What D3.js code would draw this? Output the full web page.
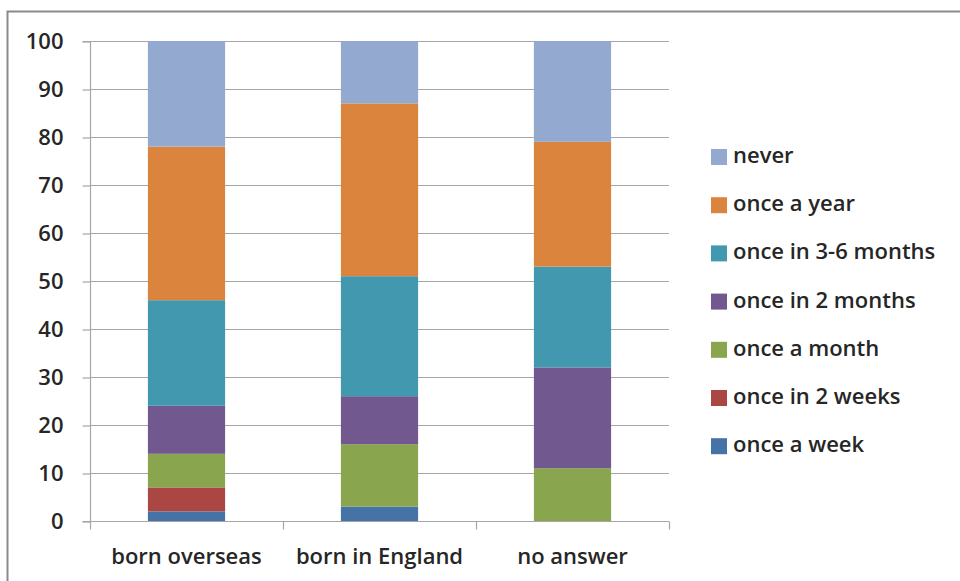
<!DOCTYPE html>
<html><head><meta charset="utf-8">
<script src="https://cdn.jsdelivr.net/npm/d3@7"></script>
<style>body{margin:0;background:#fff;} svg{display:block;font-family:"Open Sans", Lato, sans-serif;}</style>
</head><body>
<svg id="c" width="960" height="581"></svg>
<script>
const categories = ["born overseas", "born in England", "no answer"];
const seriesNames = ["once a week", "once in 2 weeks", "once a month", "once in 2 months", "once in 3-6 months", "once a year", "never"];
const onceAWeek = [2, 3, 0];
const onceIn2Weeks = [5, 0, 0];
const onceAMonth = [7, 13, 11];
const onceIn2Months = [10, 10, 21];
const onceIn3to6Months = [22, 25, 21];
const onceAYear = [32, 36, 26];
const never = [22, 13, 21];
const yTicks = [0, 10, 20, 30, 40, 50, 60, 70, 80, 90, 100];
const colors = ["#4572A7", "#AA4643", "#89A54E", "#71588F", "#4198AF", "#DB843D", "#93A9CF"];

const seriesValues = [onceAWeek, onceIn2Weeks, onceAMonth, onceIn2Months, onceIn3to6Months, onceAYear, never];
const rows = categories.map((c, i) => {
  const r = {cat: c};
  seriesNames.forEach((s, j) => r[s] = seriesValues[j][i]);
  return r;
});
const stacked = d3.stack().keys(seriesNames)(rows);

const svg = d3.select("#c");
const textColor = "#262626";
const fontSize = 22;
const fontWeight = 600;
// frame
svg.append("path").attr("d", "M7.5,581 V11.5 H960").attr("fill", "none").attr("stroke", "#8a8a8a").attr("stroke-width", 2);

const pLeft = 90, pRight = 669, pTop = 41, pBottom = 521;
const x = d3.scaleBand().domain(categories).range([pLeft, pRight]).paddingInner(0.6).paddingOuter(0.3);
const y = d3.scaleLinear().domain([0, 100]).range([pBottom, pTop]);

// gridlines
svg.append("g").selectAll("line").data(yTicks.filter(d => d > 0)).join("line")
  .attr("x1", pLeft).attr("x2", pRight).attr("y1", d => y(d) + 0.5).attr("y2", d => y(d) + 0.5)
  .attr("stroke", "#a6a6a6").attr("stroke-width", 1.2);

// bars
svg.append("g").selectAll("g").data(stacked).join("g")
  .attr("fill", (d, i) => colors[i])
  .selectAll("rect").data(d => d).join("rect")
  .attr("x", d => x(d.data.cat)).attr("width", x.bandwidth())
  .attr("y", d => y(d[1])).attr("height", d => y(d[0]) - y(d[1]));

// y axis
const ya = svg.append("g").attr("transform", `translate(${pLeft + 0.5},0)`)
  .call(d3.axisLeft(y).tickValues(yTicks).tickSize(8).tickPadding(19));
ya.select(".domain").attr("stroke", "#a6a6a6").attr("stroke-width", 1.2).attr("d", `M-8,${y(100)+0.5}H0V${y(0)+0.5}H-8`);
ya.selectAll(".tick line").attr("stroke", "#a6a6a6").attr("stroke-width", 1.2).attr("transform", "translate(0,0.5)");
ya.selectAll(".tick text").attr("font-size", fontSize).attr("font-weight", fontWeight).attr("fill", textColor).attr("font-family", "Open Sans");

// x axis
const xa = svg.append("g").attr("transform", `translate(0,${pBottom + 0.5})`);
xa.append("line").attr("x1", pLeft).attr("x2", pRight).attr("stroke", "#a6a6a6").attr("stroke-width", 1.2);
const bounds = d3.range(categories.length + 1).map(i => pLeft + i * (pRight - pLeft) / categories.length);
xa.selectAll(".tk").data(bounds).join("line").attr("class", "tk")
  .attr("x1", d => d + 0.5).attr("x2", d => d + 0.5).attr("y1", 0).attr("y2", 8)
  .attr("stroke", "#a6a6a6").attr("stroke-width", 1.2);
xa.selectAll("text").data(categories).join("text")
  .attr("x", d => x(d) + x.bandwidth() / 2).attr("y", 42)
  .attr("text-anchor", "middle").attr("font-size", fontSize).attr("font-weight", fontWeight).attr("fill", textColor).text(d => d);

// legend
const legendOrder = seriesNames.map((s, i) => ({s, c: colors[i]})).reverse();
const lg = svg.append("g").attr("transform", "translate(711,155)");
const li = lg.selectAll("g").data(legendOrder).join("g").attr("transform", (d, i) => `translate(0,${i * 48.2})`);
li.append("rect").attr("x", 0).attr("y", -6).attr("width", 16).attr("height", 16).attr("fill", d => d.c);
li.append("text").attr("x", 22).attr("y", 8).attr("font-size", fontSize).attr("font-weight", fontWeight).attr("fill", textColor).text(d => d.s);
</script>
</body></html>
